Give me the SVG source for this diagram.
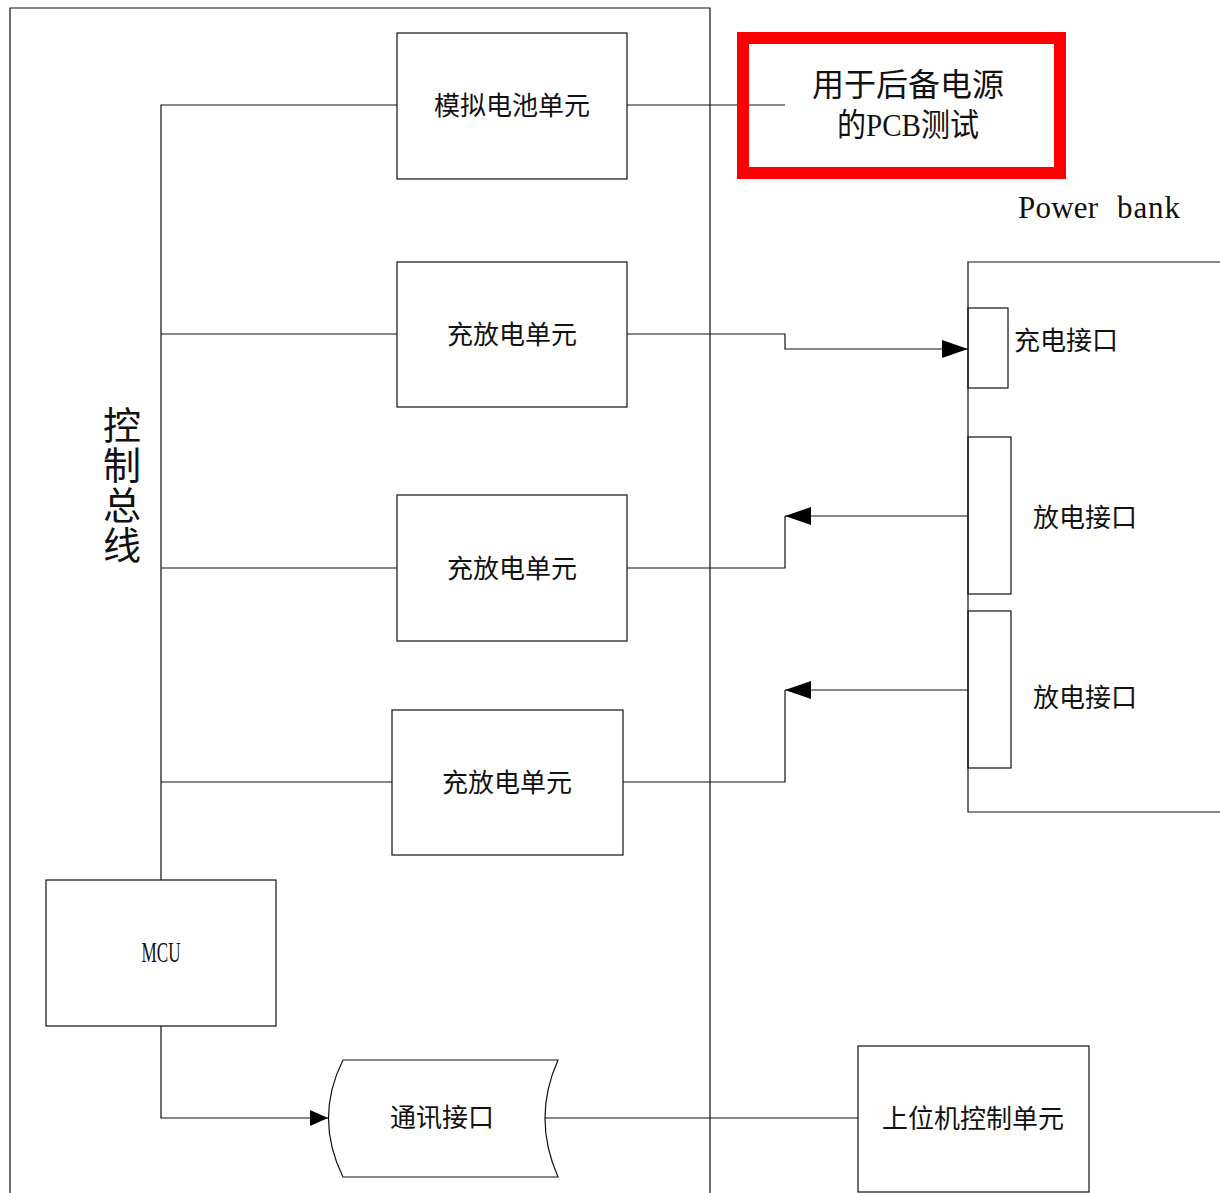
<svg xmlns="http://www.w3.org/2000/svg" width="1220" height="1193" viewBox="0 0 1220 1193">
<style>
.b{fill:none;stroke:#111;stroke-width:1.2}
.c{fill:none;stroke:#111;stroke-width:1.2}
.t{font-family:"Liberation Serif","Noto Sans CJK SC",serif;font-size:26px;fill:#111;text-anchor:middle}
.big{font-size:32px}
</style>
<defs>
<marker id="ah" markerUnits="userSpaceOnUse" markerWidth="27" markerHeight="19" refX="26" refY="9" orient="auto">
<path d="M0,0 L26,9 L0,18 Z" fill="#000"/>
</marker>
<marker id="ahs" markerUnits="userSpaceOnUse" markerWidth="19" markerHeight="17" refX="18" refY="8" orient="auto">
<path d="M0,0 L18,8 L0,16 Z" fill="#000"/>
</marker>
</defs>
<rect width="1220" height="1193" fill="#fff"/>
<g id="frame">
<path class="b" d="M10,1193 V8 H710 V1193"/>
</g>
<g id="connectors">
<path class="c" d="M161,880 V105 H397"/>
<path class="c" d="M161,334 H397"/>
<path class="c" d="M161,568 H397"/>
<path class="c" d="M161,782 H392"/>
<path class="c" d="M627,105 H785"/>
<path class="c" d="M627,334 H785 V349 H968" marker-end="url(#ah)"/>
<path class="c" d="M968,516 H785" marker-end="url(#ah)"/>
<path class="c" d="M785,516 V568 H627"/>
<path class="c" d="M968,690 H785" marker-end="url(#ah)"/>
<path class="c" d="M785,690 V782 H623"/>
<path class="c" d="M161,1026 V1118 H328" marker-end="url(#ahs)"/>
<path class="c" d="M545,1118 H858"/>
</g>
<g id="sim-battery">
<rect class="b" x="397" y="33" width="230" height="146"/>
<text class="t" x="512" y="115">模拟电池单元</text>
</g>
<g id="charge-unit-1">
<rect class="b" x="397" y="262" width="230" height="145"/>
<text class="t" x="512" y="344">充放电单元</text>
</g>
<g id="charge-unit-2">
<rect class="b" x="397" y="495" width="230" height="146"/>
<text class="t" x="512" y="578">充放电单元</text>
</g>
<g id="charge-unit-3">
<rect class="b" x="392" y="710" width="231" height="145"/>
<text class="t" x="507" y="792">充放电单元</text>
</g>
<g id="bus-label">
<text x="122" y="406" style="font-family:'Noto Sans CJK SC',sans-serif;font-size:38px;fill:#111;writing-mode:vertical-rl;letter-spacing:2px">控制总线</text>
</g>
<g id="mcu">
<rect class="b" x="46" y="880" width="230" height="146"/>
<text class="t" x="161" y="962" style="font-size:30px" textLength="39" lengthAdjust="spacingAndGlyphs">MCU</text>
</g>
<g id="comm">
<path class="b" d="M343,1060 H558 Q532,1118 558,1177 H343 Q314,1118 343,1060 Z"/>
<text class="t" x="442" y="1127">通讯接口</text>
</g>
<g id="host">
<rect class="b" x="858" y="1046" width="231" height="146"/>
<text class="t" x="973" y="1128">上位机控制单元</text>
</g>
<g id="pcb-note">
<rect x="743" y="38" width="317" height="135" fill="none" stroke="#ff0000" stroke-width="12"/>
<text class="t big" x="908" y="96">用于后备电源</text>
<text class="t big" x="908" y="136" textLength="142" lengthAdjust="spacingAndGlyphs">的PCB测试</text>
</g>
<g id="power-bank">
<path class="b" d="M1220,262 H968 V812 H1220"/>
<text y="218" style="font-family:'Liberation Serif',serif;font-size:31px;fill:#111"><tspan x="1018" textLength="80" lengthAdjust="spacing">Power</tspan> <tspan x="1117" textLength="63" lengthAdjust="spacing">bank</tspan></text>
</g>
<g id="charge-port">
<rect class="b" x="968" y="308" width="40" height="80"/>
<text class="t" x="1066" y="350">充电接口</text>
</g>
<g id="discharge-port-1">
<rect class="b" x="968" y="437" width="43" height="157"/>
<text class="t" x="1085" y="527">放电接口</text>
</g>
<g id="discharge-port-2">
<rect class="b" x="968" y="611" width="43" height="157"/>
<text class="t" x="1085" y="707">放电接口</text>
</g>
</svg>
